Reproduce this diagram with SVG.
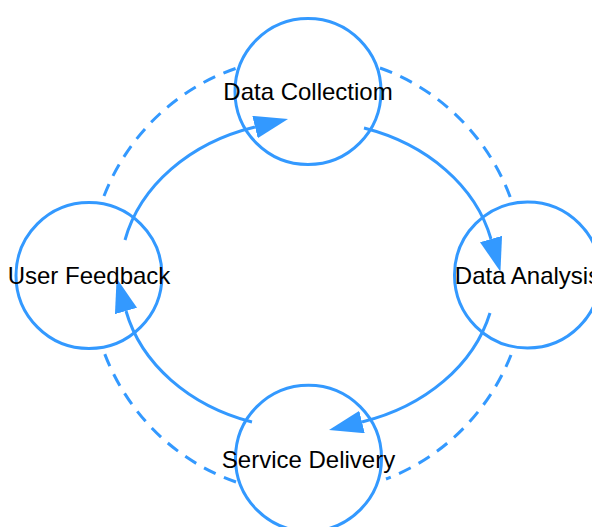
<svg xmlns="http://www.w3.org/2000/svg" width="592" height="527" viewBox="0 0 592 527">
  <style>
    .node circle { fill: none; stroke: #3399ff; stroke-width: 3; }
    .node text { font-family: "Liberation Sans", Arial, Helvetica, sans-serif; font-size: 24px; fill: #000; text-anchor: middle; }
    .flow { fill: none; stroke: #3399ff; stroke-width: 3; }
    .flow.solid { marker-end: url(#head); }
    .flow.dashed { stroke-dasharray: 13 9; }
  </style>
  <defs>
    <marker id="head" markerUnits="userSpaceOnUse" viewBox="0 0 34 23" markerWidth="34" markerHeight="23" refX="0" refY="11.5" orient="auto">
      <path d="M0,0 L34,11.5 L0,23 Z" fill="#3399ff"/>
    </marker>
  </defs>

  <rect width="592" height="527" fill="#fff"/>

  <!-- cycle connectors: inner solid arrows, outer dashed return paths -->
  <g id="connectors">
    <path class="flow solid" d="M125,240 A188,153 0 0,1 255,127"/>
    <path class="flow solid" d="M364,128 A188,153 0 0,1 491,239"/>
    <path class="flow solid" d="M490,313 A188,153 0 0,1 362,422"/>
    <path class="flow solid" d="M252,422 A188,153 0 0,1 126,311"/>

    <path class="flow dashed" d="M104,196 A216,220 0 0,1 237,68"/>
    <path class="flow dashed" d="M380,68 A216,220 0 0,1 512,202"/>
    <path class="flow dashed" d="M511,355 A216,220 0 0,1 386,479"/>
    <path class="flow dashed" d="M236,482 A216,220 0 0,1 104,352"/>
  </g>

  <g id="data-collection" class="node">
    <circle cx="308" cy="91.5" r="73"/>
    <text x="308" y="99.5">Data Collectiom</text>
  </g>
  <g id="data-analysis" class="node">
    <circle cx="527.5" cy="275" r="73"/>
    <text x="527.5" y="283.5">Data Analysis</text>
  </g>
  <g id="service-delivery" class="node">
    <circle cx="308.5" cy="458.3" r="73"/>
    <text x="308.5" y="467.5">Service Delivery</text>
  </g>
  <g id="user-feedback" class="node">
    <circle cx="89" cy="275.5" r="73"/>
    <text x="89" y="284">User Feedback</text>
  </g>
</svg>
